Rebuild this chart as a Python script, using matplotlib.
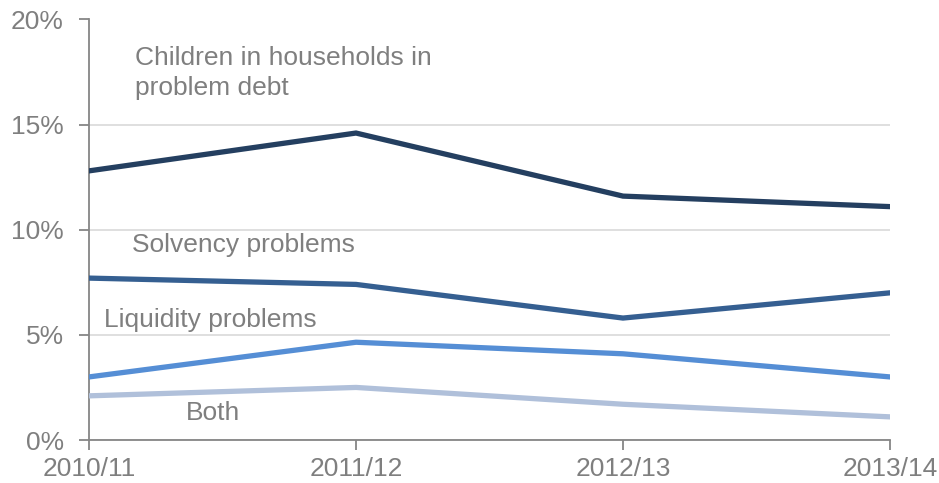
import matplotlib
matplotlib.use("Agg")
import matplotlib.pyplot as plt
from matplotlib.ticker import FuncFormatter

plt.rcParams['font.family'] = ['Liberation Sans', 'DejaVu Sans']

years = ["2010/11", "2011/12", "2012/13", "2013/14"]
problem_debt = [12.8, 14.6, 11.6, 11.1]
solvency = [7.7, 7.4, 5.8, 7.0]
liquidity = [3.0, 4.65, 4.1, 3.0]
both = [2.1, 2.5, 1.7, 1.1]

series = [
    (problem_debt, "#243F60"),
    (solvency, "#355F91"),
    (liquidity, "#558ED5"),
    (both, "#B0C0DA"),
]

grey = "#7F7F7F"
fig = plt.figure(figsize=(9.39, 4.83), dpi=100)
ax = fig.add_axes([89/939, 43/483, 801/939, 420.5/483])

x = list(range(len(years)))
for vals, col in series:
    ax.plot(x, vals, color=col, lw=3.8, solid_capstyle='round', solid_joinstyle='miter', zorder=3)

ax.set_xlim(0, 3)
ax.set_ylim(0, 20)
ax.set_yticks([0, 5, 10, 15, 20])
ax.yaxis.set_major_formatter(FuncFormatter(lambda v, p: f"{int(v)}%"))
ax.set_xticks(x)
ax.set_xticklabels(years)
ax.grid(axis='y', color="#D9D9D9", lw=1.2, zorder=0)
for s in ['top', 'right']:
    ax.spines[s].set_visible(False)
for s in ['left', 'bottom']:
    ax.spines[s].set_color("#868686")
    ax.spines[s].set_linewidth(1.3)
ax.tick_params(axis='both', colors="#868686", labelcolor=grey, labelsize=19, length=7, width=1.3)
ax.tick_params(axis='y', pad=11)
ax.tick_params(axis='x', pad=5)

fs = 19
ax.text(0.172, 17.45, "Children in households in\nproblem debt", color=grey, fontsize=fs,
        va='center', ha='left', linespacing=1.33)
ax.text(0.161, 9.27, "Solvency problems", color=grey, fontsize=fs, va='center', ha='left')
ax.text(0.056, 5.7, "Liquidity problems", color=grey, fontsize=fs, va='center', ha='left')
ax.text(0.363, 1.28, "Both", color=grey, fontsize=fs, va='center', ha='left')

for lbl in ax.get_xticklabels():
    lbl.set_clip_on(False)

fig.savefig("out.png", dpi=100)
